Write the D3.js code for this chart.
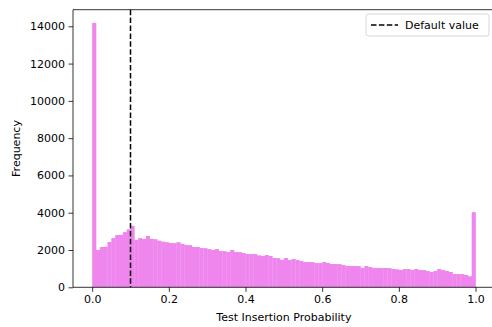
<!DOCTYPE html>
<html>
<head>
<meta charset="utf-8">
<script src="https://cdn.jsdelivr.net/npm/d3@7"></script>
<style>
  html, body { margin: 0; padding: 0; background: #fff; }
  svg { display: block; font-family: "DejaVu Sans", sans-serif; }
</style>
</head>
<body>
<svg id="chart" width="492" height="327"></svg>
<script>
// Histogram of test insertion probabilities, 100 bins of width 0.01 on [0, 1]
const binWidth = 0.01;
const counts = [
  14180, 2000, 2160, 2170, 2430, 2640, 2800, 2810, 2960, 3110,
  3300, 2550, 2640, 2590, 2750, 2600, 2580, 2500, 2450, 2420,
  2375, 2370, 2420, 2330, 2270, 2260, 2160, 2160, 2105, 2100,
  2050, 2000, 2050, 1945, 1940, 1890, 2000, 1890, 1885, 1838,
  1784, 1784, 1780, 1714, 1677, 1730, 1677, 1570, 1565, 1463,
  1570, 1463, 1516, 1463, 1409, 1355, 1355, 1350, 1302, 1300,
  1355, 1302, 1248, 1248, 1245, 1195, 1141, 1141, 1140, 1138,
  1034, 1141, 1088, 1034, 1034, 1030, 1034, 1030, 980, 965,
  927, 980, 978, 927, 980, 927, 925, 873, 820, 873,
  980, 927, 873, 820, 713, 713, 710, 660, 590, 4030
];
const defaultValue = 0.1;
const xTicks = [0.0, 0.2, 0.4, 0.6, 0.8, 1.0];
const yTicks = [0, 2000, 4000, 6000, 8000, 10000, 12000, 14000];
const xLabel = "Test Insertion Probability";
const yLabel = "Frequency";
const legendLabel = "Default value";

const bins = counts.map((c, i) => ({ x0: i * binWidth, x1: (i + 1) * binWidth, count: c }));

const svg = d3.select("#chart");
const plotLeft = 73, plotTop = 9.7, plotBottom = 287.3, plotRight = 494.7;

const xMin = 0, xMax = 1;
const xPad = (xMax - xMin) * 0.05;
const x = d3.scaleLinear().domain([xMin - xPad, xMax + xPad]).range([plotLeft, plotRight]);
const yMax = d3.max(counts) * 1.05;
const y = d3.scaleLinear().domain([0, yMax]).range([plotBottom, plotTop]);

// bars (slightly overlapped so neighbouring fills leave no seams)
svg.append("g")
  .selectAll("rect")
  .data(bins)
  .join("rect")
  .attr("x", d => x(d.x0))
  .attr("width", d => x(d.x1) - x(d.x0) + 0.3)
  .attr("y", d => y(d.count))
  .attr("height", d => y(0) - y(d.count))
  .attr("fill", "#ee86ee");

// default-value marker spanning the full axes height
svg.append("line")
  .attr("x1", x(defaultValue)).attr("x2", x(defaultValue))
  .attr("y1", plotTop).attr("y2", plotBottom)
  .attr("stroke", "#000")
  .attr("stroke-width", 1.5)
  .attr("stroke-dasharray", "5.5,2.4");

// axes
const xAxis = d3.axisBottom(x).tickValues(xTicks).tickFormat(d3.format(".1f")).tickSizeOuter(0).tickSize(4.5).tickPadding(3.5);
const yAxis = d3.axisLeft(y).tickValues(yTicks).tickFormat(d3.format("d")).tickSizeOuter(0).tickSize(4.5).tickPadding(3.5);

const gx = svg.append("g").attr("transform", `translate(0,${plotBottom})`).call(xAxis);
const gy = svg.append("g").attr("transform", `translate(${plotLeft},0)`).call(yAxis);
[gx, gy].forEach(g => {
  g.select(".domain").remove();
  g.selectAll(".tick line").attr("stroke", "#000").attr("stroke-width", 0.8);
  g.selectAll(".tick text").attr("fill", "#000").style("font-size", "11px").style("font-family", "DejaVu Sans, sans-serif");
});

// spines (the right edge falls just outside the canvas)
const spines = svg.append("g").attr("stroke", "#000").attr("stroke-width", 0.8).attr("fill", "none");
spines.append("line").attr("x1", plotLeft).attr("x2", plotLeft).attr("y1", plotTop).attr("y2", plotBottom);
spines.append("line").attr("x1", plotLeft).attr("x2", plotRight).attr("y1", plotBottom).attr("y2", plotBottom);
spines.append("line").attr("x1", plotLeft).attr("x2", plotRight).attr("y1", plotTop).attr("y2", plotTop);
spines.append("line").attr("x1", plotRight).attr("x2", plotRight).attr("y1", plotTop).attr("y2", plotBottom);

// axis labels
svg.append("text")
  .attr("x", (x(0) + x(1)) / 2).attr("y", 321)
  .attr("text-anchor", "middle")
  .style("font-size", "11px")
  .text(xLabel);
svg.append("text")
  .attr("transform", `translate(20,${(plotTop + plotBottom) / 2}) rotate(-90)`)
  .attr("text-anchor", "middle")
  .style("font-size", "11px")
  .text(yLabel);

// legend
const lg = svg.append("g").attr("transform", "translate(366,14)");
lg.append("rect")
  .attr("width", 123).attr("height", 22).attr("rx", 2.5)
  .attr("fill", "#fff").attr("fill-opacity", 0.8)
  .attr("stroke", "#cccccc").attr("stroke-width", 0.8);
lg.append("line")
  .attr("x1", 5).attr("x2", 32).attr("y1", 11).attr("y2", 11)
  .attr("stroke", "#000").attr("stroke-width", 1.5)
  .attr("stroke-dasharray", "5.5,2.4");
lg.append("text")
  .attr("x", 39).attr("y", 15)
  .style("font-size", "11px")
  .text(legendLabel);
</script>
</body>
</html>
